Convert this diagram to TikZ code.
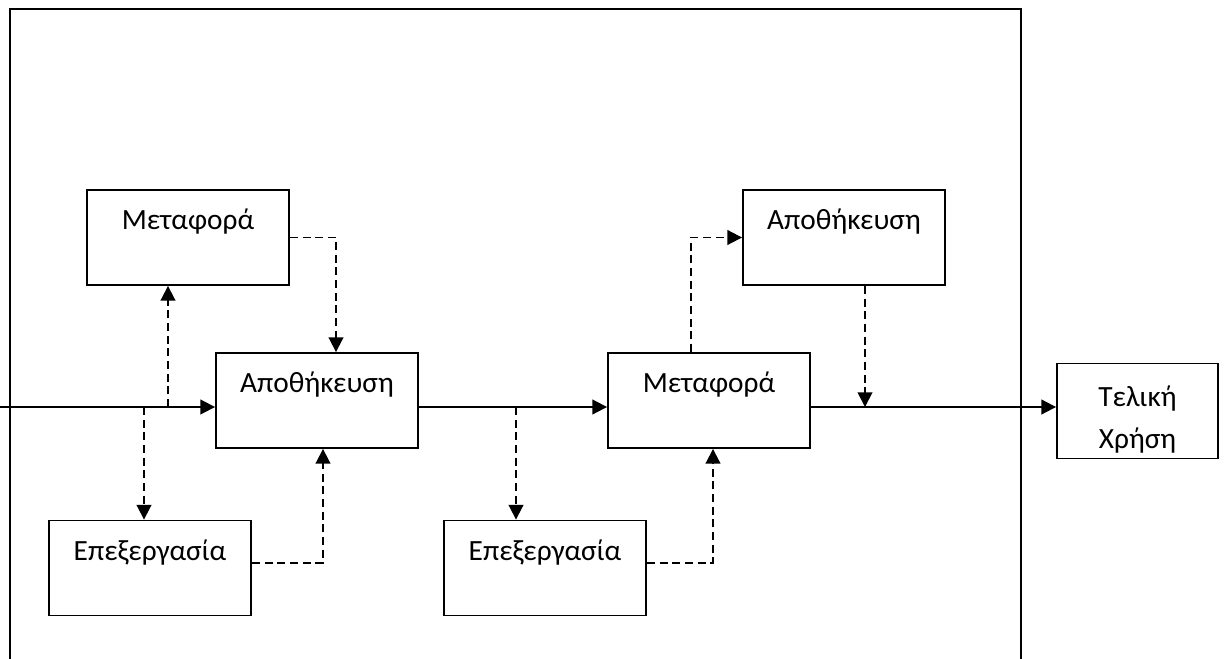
\documentclass[tikz,border=0pt]{standalone}
\usepackage{fontspec}
\setmainfont{Carlito}
\usetikzlibrary{arrows.meta}

\begin{document}
\begin{tikzpicture}[x=0.75pt,y=-0.75pt,
    box/.style={draw, line width=1.4pt, minimum width=151.5pt, minimum height=71.25pt,
      inner sep=0pt, font=\fontsize{22}{32}\selectfont},
    toptext/.style={text height=16pt, text depth=28pt},
    flow/.style={line width=1.4pt, -{Triangle[length=11pt,width=11pt]}},
    side/.style={flow, dash pattern=on 6pt off 3.5pt}]
    \useasboundingbox (0,0) rectangle (1227,659);
    \draw[line width=1.4pt] (10,659) |- (1021,9) -- (1021,659);

    \node[box,toptext] (met1) at (188,237.5) {Μεταφορά};
    \node[box,toptext] (apo1) at (317,400.5) {Αποθήκευση};
    \node[box,toptext] (epe1) at (150,568) {Επεξεργασία};
    \node[box,toptext] (epe2) at (545,568) {Επεξεργασία};
    \node[box,toptext] (met2) at (709,400.5) {Μεταφορά};
    \node[box,toptext] (apo2) at (844,237.5) {Αποθήκευση};
    \node[box,minimum width=120.75pt,align=center] (tel) at (1137.5,411) {\strut\\[-26pt]Τελική\\Χρήση};

    % main flow
    \coordinate (in) at (0,407);
    \draw[flow] (in) -- (in -| apo1.west);
    \draw[flow] (apo1.east |- in) -- (in -| met2.west);
    \draw[flow] (met2.east |- in) -- (in -| tel.west);

    % side paths
    \coordinate (s1) at (168,407);
    \coordinate (s2) at (144,407);
    \coordinate (s3) at (336,407);
    \coordinate (s4) at (323,407);
    \coordinate (s5) at (516,407);
    \coordinate (s6) at (713,407);
    \coordinate (s7) at (691,407);
    \coordinate (s8) at (865,407);
    \draw[side] (s1) -- (s1 |- met1.south);
    \draw[side] (met1.east) -| (s3 |- apo1.north);
    \draw[side] (s2) -- (s2 |- epe1.north);
    \draw[side] (epe1.3) -| (s4 |- apo1.south);
    \draw[side] (s5) -- (s5 |- epe2.north);
    \draw[side] (epe2.3) -| (s6 |- met2.south);
    \draw[side] (s7 |- met2.north) |- (apo2.west);
    \draw[side] (s8 |- apo2.south) -- (s8);
\end{tikzpicture}
\end{document}
